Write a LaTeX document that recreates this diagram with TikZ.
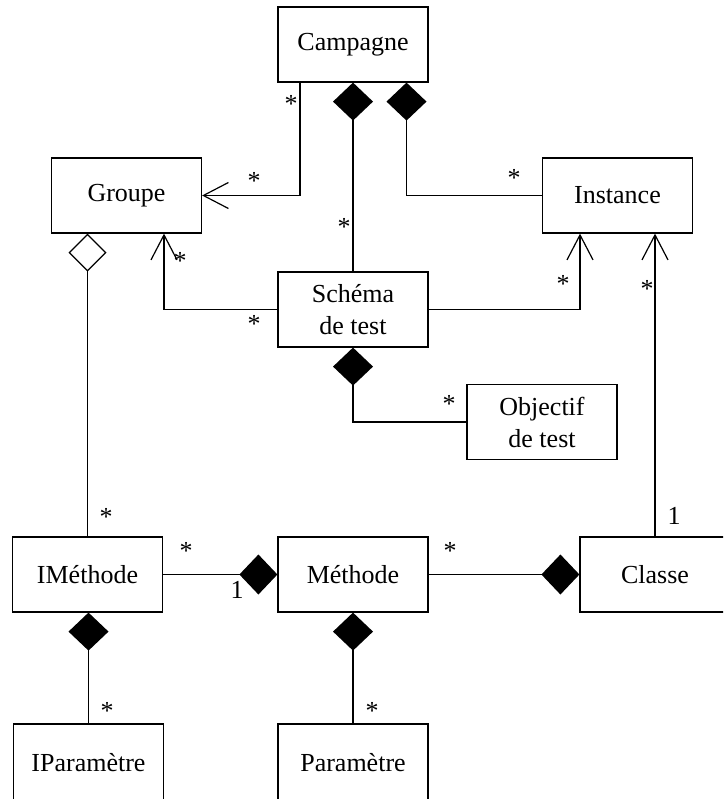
\documentclass[tikz,border=0pt]{standalone}
\usepackage{fontspec}
\setmainfont{Liberation Serif}
\usetikzlibrary{arrows.meta}

\tikzset{
  cls/.style={draw, line width=1.2pt, minimum width=150pt, minimum height=75pt,
              inner sep=0pt, align=center, font=\fontsize{26}{32}\selectfont},
  mult/.style={inner sep=0pt, font=\fontsize{26}{30}\selectfont},
  link/.style={line width=1.2pt},
  comp/.style={{Diamond[length=38pt,width=40pt,line width=0pt]}-},
  compend/.style={-{Diamond[length=38pt,width=40pt,line width=0pt]}},
  aggr/.style={{Diamond[open,length=38pt,width=38pt]}-},
  nav/.style={-{Straight Barb[length=25pt,width=26pt,line width=1.2pt]}},
}

\begin{document}
\begin{tikzpicture}[x=1pt, y=-1pt]
  \useasboundingbox (0,0) rectangle (723,799);
  \clip (0,0) rectangle (723,799);

  % classes
  \node[cls] (camp)  at (353,44.5)   {Campagne};
  \node[cls] (grp)   at (126.5,195.5) {Groupe};
  \node[cls] (ins)   at (617.5,195.5) {Instance};
  \node[cls] (sch)   at (353,309.5)  {Schéma\\de test};
  \node[cls] (obj)   at (542,422)    {Objectif\\de test};
  \node[cls] (imeth) at (87.5,574.5) {IMéthode};
  \node[cls] (meth)  at (353,574.5)  {Méthode};
  \node[cls] (cls)   at (655,574.5)  {Classe};
  \node[cls, minimum height=77pt] (ipar) at (88.5,762.5) {IParamètre};
  \node[cls, minimum height=77pt] (par)  at (353,762.5)  {Paramètre};

  % associations
  \draw[link,nav]  ([xshift=-53pt]camp.south) |- (grp.east);
  \draw[link,comp] (camp.south) -- (sch.north);
  \draw[link,comp] ([xshift=53.5pt]camp.south) |- (ins.west);
  \draw[link,aggr] (imeth.north |- grp.south) -- (imeth.north);
  \draw[link,nav]  (sch.west) -| ([xshift=37.5pt]grp.south);
  \draw[link,nav]  (sch.east) -| ([xshift=-37.5pt]ins.south);
  \draw[link,comp] (sch.south) |- (obj.west);
  \draw[link,nav]  (cls.north) -- (cls.north |- ins.south);
  \draw[link,compend] (imeth.east) -- (meth.west);
  \draw[link,compend] (meth.east) -- (cls.west);
  \draw[link,comp] (imeth.south -| ipar.north) -- (ipar.north);
  \draw[link,comp] (meth.south) -- (par.north);

  % multiplicities
  \node[mult] (m1)  at (291,103.5) {*};
  \node[mult] (m2)  at (254,180.5) {*};
  \node[mult] (m3)  at (344,226.5) {*};
  \node[mult] (m4)  at (514,177.5) {*};
  \node[mult] (m5)  at (180,260.5) {*};
  \node[mult] (m6)  at (254,323.5) {*};
  \node[mult] (m7)  at (563,283.5) {*};
  \node[mult] (m8)  at (647,288.5) {*};
  \node[mult] (m9)  at (449,403.5) {*};
  \node[mult] (m10) at (106,516.5) {*};
  \node[mult] (m11) at (186,550.5) {*};
  \node[mult] (m12) at (237,590)   {1};
  \node[mult] (m13) at (450,550.5) {*};
  \node[mult] (m14) at (674,516)   {1};
  \node[mult] (m15) at (107,710.5) {*};
  \node[mult] (m16) at (372,710.5) {*};
\end{tikzpicture}
\end{document}
